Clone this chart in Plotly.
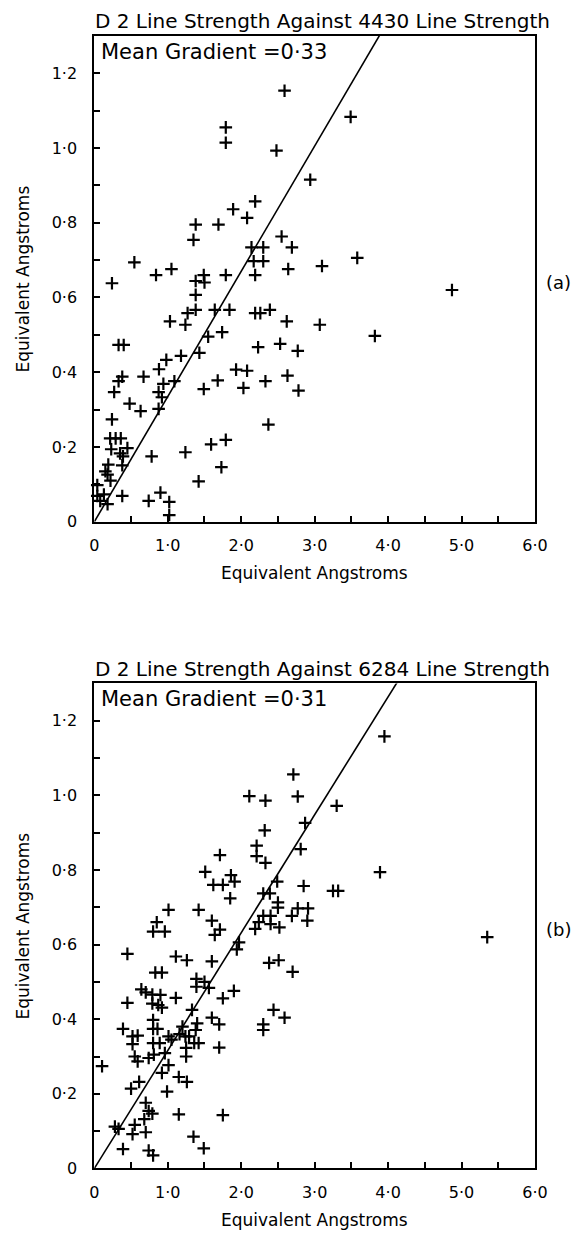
import plotly.graph_objects as go

# ---------------- data ----------------
titles = ["D 2 Line Strength Against 4430 Line Strength",
          "D 2 Line Strength Against 6284 Line Strength"]
gradient_labels = ["Mean Gradient =0·33", "Mean Gradient =0·31"]
panel_labels = ["(a)", "(b)"]
axis_title = "Equivalent Angstroms"

# fitted line slopes (as drawn)
a_slope = 0.335
b_slope = 0.316

a_x = [2.59, 1.79, 1.79, 2.48, 2.94, 3.49, 2.19, 1.89, 2.08, 1.38, 1.69, 1.35, 2.55, 2.69,
       2.14, 2.30, 0.545, 1.05, 0.84, 2.17, 2.30, 2.64, 3.10, 1.49, 1.79, 2.19, 3.58, 4.87,
       3.07, 3.82, 2.77, 2.78, 0.24, 1.38, 1.50, 1.38, 1.38, 1.27, 1.64, 1.84, 2.19, 2.26,
       2.39, 1.03, 1.24, 2.62, 1.55, 1.74, 2.23, 2.53, 0.33, 0.40, 1.43, 1.18, 0.98, 0.88,
       1.93, 2.08, 0.67, 0.38, 0.33, 0.94, 1.09, 1.68, 1.49, 2.03, 2.33, 2.63, 0.27, 0.875,
       0.92, 0.48, 0.63, 0.875, 0.24, 0.215, 0.29, 0.36, 2.37, 0.23, 0.45, 0.35, 0.39, 0.78,
       1.24, 1.59, 1.79, 1.73, 0.19, 0.38, 0.15, 0.18, 0.22, 1.42, 0.04, 0.13, 0.04, 0.08,
       0.18, 0.38, 0.74, 0.90, 1.02, 1.02]
a_y = [1.153, 1.055, 1.014, 0.993, 0.915, 1.083, 0.857, 0.836, 0.813, 0.795, 0.795, 0.754,
       0.763, 0.734, 0.734, 0.734, 0.694, 0.676, 0.660, 0.697, 0.697, 0.676, 0.684, 0.660,
       0.660, 0.660, 0.706, 0.620, 0.527, 0.497, 0.457, 0.351, 0.638, 0.644, 0.640, 0.607,
       0.567, 0.558, 0.567, 0.567, 0.558, 0.558, 0.567, 0.536, 0.527, 0.536, 0.495, 0.507,
       0.467, 0.476, 0.473, 0.473, 0.452, 0.444, 0.433, 0.408, 0.407, 0.404, 0.388, 0.388,
       0.376, 0.369, 0.376, 0.378, 0.355, 0.358, 0.376, 0.391, 0.347, 0.347, 0.333, 0.316,
       0.296, 0.302, 0.274, 0.223, 0.223, 0.223, 0.260, 0.194, 0.197, 0.183, 0.175, 0.175,
       0.186, 0.207, 0.219, 0.146, 0.153, 0.151, 0.135, 0.126, 0.110, 0.108, 0.098, 0.073,
       0.069, 0.056, 0.047, 0.069, 0.056, 0.078, 0.053, 0.018]

b_x = [2.71, 2.11, 2.33, 2.77, 2.32, 2.87, 2.21, 2.21, 2.33, 2.81, 1.71, 1.51, 1.86, 1.91,
       1.62, 1.75, 1.85, 2.49, 2.85, 2.30, 2.39, 2.50, 2.50, 1.01, 1.42, 2.77, 2.91, 2.90,
       2.69, 3.95, 3.30, 3.89, 3.25, 3.32, 5.35, 2.30, 2.40, 2.24, 2.19, 2.40, 2.52, 1.60,
       1.64, 1.71, 1.97, 1.94, 1.60, 2.38, 2.51, 2.70, 1.39, 1.39, 1.50, 1.56, 1.90, 1.75,
       2.44, 2.59, 1.60, 1.70, 2.30, 2.30, 1.70, 1.75, 1.49, 0.85, 0.80, 0.96, 0.45, 1.11,
       1.26, 0.83, 0.92, 0.64, 0.70, 0.79, 0.90, 1.11, 0.45, 0.79, 0.87, 0.92, 1.33, 0.80,
       0.80, 0.39, 0.86, 0.52, 0.59, 0.52, 1.01, 1.05, 1.20, 1.16, 1.24, 1.29, 1.40, 1.38,
       1.36, 1.42, 0.80, 0.89, 0.55, 0.59, 0.74, 0.81, 0.96, 1.25, 1.25, 0.105, 1.01, 0.92,
       1.15, 1.26, 0.50, 0.61, 0.99, 0.70, 0.74, 0.79, 0.68, 1.15, 0.28, 0.33, 0.55, 0.52,
       0.70, 1.35, 0.39, 0.74, 0.80]
b_y = [1.056, 0.998, 0.986, 0.997, 0.906, 0.926, 0.865, 0.837, 0.819, 0.856, 0.840, 0.795,
       0.786, 0.769, 0.760, 0.760, 0.724, 0.769, 0.757, 0.737, 0.737, 0.713, 0.699, 0.693,
       0.693, 0.697, 0.697, 0.664, 0.677, 1.158, 0.972, 0.794, 0.744, 0.744, 0.620, 0.677,
       0.677, 0.660, 0.642, 0.655, 0.646, 0.664, 0.626, 0.640, 0.606, 0.587, 0.555, 0.551,
       0.558, 0.527, 0.508, 0.487, 0.500, 0.484, 0.476, 0.456, 0.425, 0.404, 0.404, 0.386,
       0.386, 0.371, 0.324, 0.143, 0.054, 0.660, 0.635, 0.635, 0.575, 0.568, 0.558, 0.525,
       0.525, 0.480, 0.472, 0.466, 0.465, 0.457, 0.444, 0.442, 0.438, 0.431, 0.425, 0.398,
       0.374, 0.374, 0.374, 0.354, 0.356, 0.333, 0.354, 0.345, 0.380, 0.360, 0.354, 0.354,
       0.389, 0.371, 0.336, 0.336, 0.336, 0.336, 0.300, 0.287, 0.296, 0.305, 0.309, 0.323,
       0.300, 0.274, 0.277, 0.256, 0.245, 0.232, 0.214, 0.232, 0.206, 0.176, 0.154, 0.147,
       0.132, 0.145, 0.112, 0.106, 0.117, 0.092, 0.097, 0.085, 0.052, 0.048, 0.035]

x_tickvals = [0, 1, 2, 3, 4, 5, 6]
x_ticktext = ["0", "1·0", "2·0", "3·0", "4·0", "5·0", "6·0"]
y_tickvals = [0, 0.2, 0.4, 0.6, 0.8, 1.0, 1.2]
y_ticktext = ["0", "0·2", "0·4", "0·6", "0·8", "1·0", "1·2"]
x_range = [0, 6]
y_range = [0, 1.3]
line_x = [0, 6]

# ---------------- layout geometry (page pixels) ----------------
PAGE_W, PAGE_H = 585, 1238
BODY_MARGIN = 8                      # default browser body margin
W, H = PAGE_W - 2 * BODY_MARGIN, PAGE_H - 2 * BODY_MARGIN
FONT = "DejaVu Sans"
px_left, px_right = 92, 547
panels_px = [(36, 526), (689, 1178)]  # (top, bottom) in page pixels


def fx(px):
    return (px - BODY_MARGIN) / W


def fy(py):
    return 1 - (py - BODY_MARGIN) / H


fig = go.Figure()

datasets = [(a_x, a_y, a_slope), (b_x, b_y, b_slope)]
for i, (xs, ys, slope) in enumerate(datasets):
    xa = "x" if i == 0 else "x2"
    ya = "y" if i == 0 else "y2"
    fig.add_trace(go.Scatter(
        x=line_x, y=[v * slope for v in line_x], mode="lines",
        line=dict(color="black", width=1.6), xaxis=xa, yaxis=ya,
        showlegend=False, hoverinfo="skip"))
    fig.add_trace(go.Scatter(
        x=xs, y=ys, mode="markers",
        marker=dict(symbol="cross-thin", size=9, color="black",
                    line=dict(color="black", width=2.2)),
        xaxis=xa, yaxis=ya, showlegend=False, cliponaxis=False))

axis_common = dict(showline=True, linecolor="black", linewidth=2, mirror=True,
                   showgrid=False, zeroline=False, ticks="inside", ticklen=6,
                   tickwidth=1.5, tickcolor="black",
                   tickfont=dict(family=FONT, size=16, color="black"))

layout = dict(width=W, height=H, margin=dict(l=0, r=0, t=0, b=0),
              plot_bgcolor="white", paper_bgcolor="white",
              font=dict(family=FONT, color="black"), showlegend=False)

for i, (top, bot) in enumerate(panels_px):
    xname = "xaxis" if i == 0 else "xaxis2"
    yname = "yaxis" if i == 0 else "yaxis2"
    layout[xname] = dict(axis_common, domain=[fx(px_left), fx(px_right)],
                         range=x_range, tickvals=x_tickvals, ticktext=x_ticktext,
                         minor=dict(ticks="inside", dtick=0.5, ticklen=6,
                                    tickwidth=1.5, tickcolor="black"),
                         ticklabelstandoff=8,
                         anchor="y" if i == 0 else "y2")
    layout[yname] = dict(axis_common, domain=[fy(bot), fy(top)],
                         range=y_range, tickvals=y_tickvals, ticktext=y_ticktext,
                         minor=dict(ticks="inside", dtick=0.1, ticklen=6,
                                    tickwidth=1.5, tickcolor="black"),
                         ticklabelstandoff=12,
                         anchor="x" if i == 0 else "x2")
fig.update_layout(**layout)

annotations = []
for i, (top, bot) in enumerate(panels_px):
    # panel title
    annotations.append(dict(text=titles[i], x=fx(px_left - 1), y=fy(top - 15),
                            xref="paper", yref="paper", xanchor="left", yanchor="middle",
                            showarrow=False, font=dict(family=FONT, size=20, color="black")))
    # gradient label inside plot
    annotations.append(dict(text=gradient_labels[i], x=fx(px_left + 5), y=fy(top + 16),
                            xref="paper", yref="paper", xanchor="left", yanchor="middle",
                            showarrow=False, font=dict(family=FONT, size=21, color="black")))
    # panel letter
    annotations.append(dict(text=panel_labels[i], x=fx(556), y=fy((top + bot) / 2 + 4),
                            xref="paper", yref="paper", xanchor="left", yanchor="middle",
                            showarrow=False, font=dict(family=FONT, size=18, color="black")))
    # x-axis title
    annotations.append(dict(text=axis_title, x=fx((px_left + px_right) / 2), y=fy(bot + 52),
                            xref="paper", yref="paper", xanchor="center", yanchor="middle",
                            showarrow=False, font=dict(family=FONT, size=17, color="black")))
    # y-axis title
    annotations.append(dict(text=axis_title, x=fx(18), y=fy((top + bot) / 2),
                            xref="paper", yref="paper", xanchor="center", yanchor="middle",
                            textangle=-90, showarrow=False,
                            font=dict(family=FONT, size=17, color="black")))
fig.update_layout(annotations=annotations)

fig.write_html("out.html")
